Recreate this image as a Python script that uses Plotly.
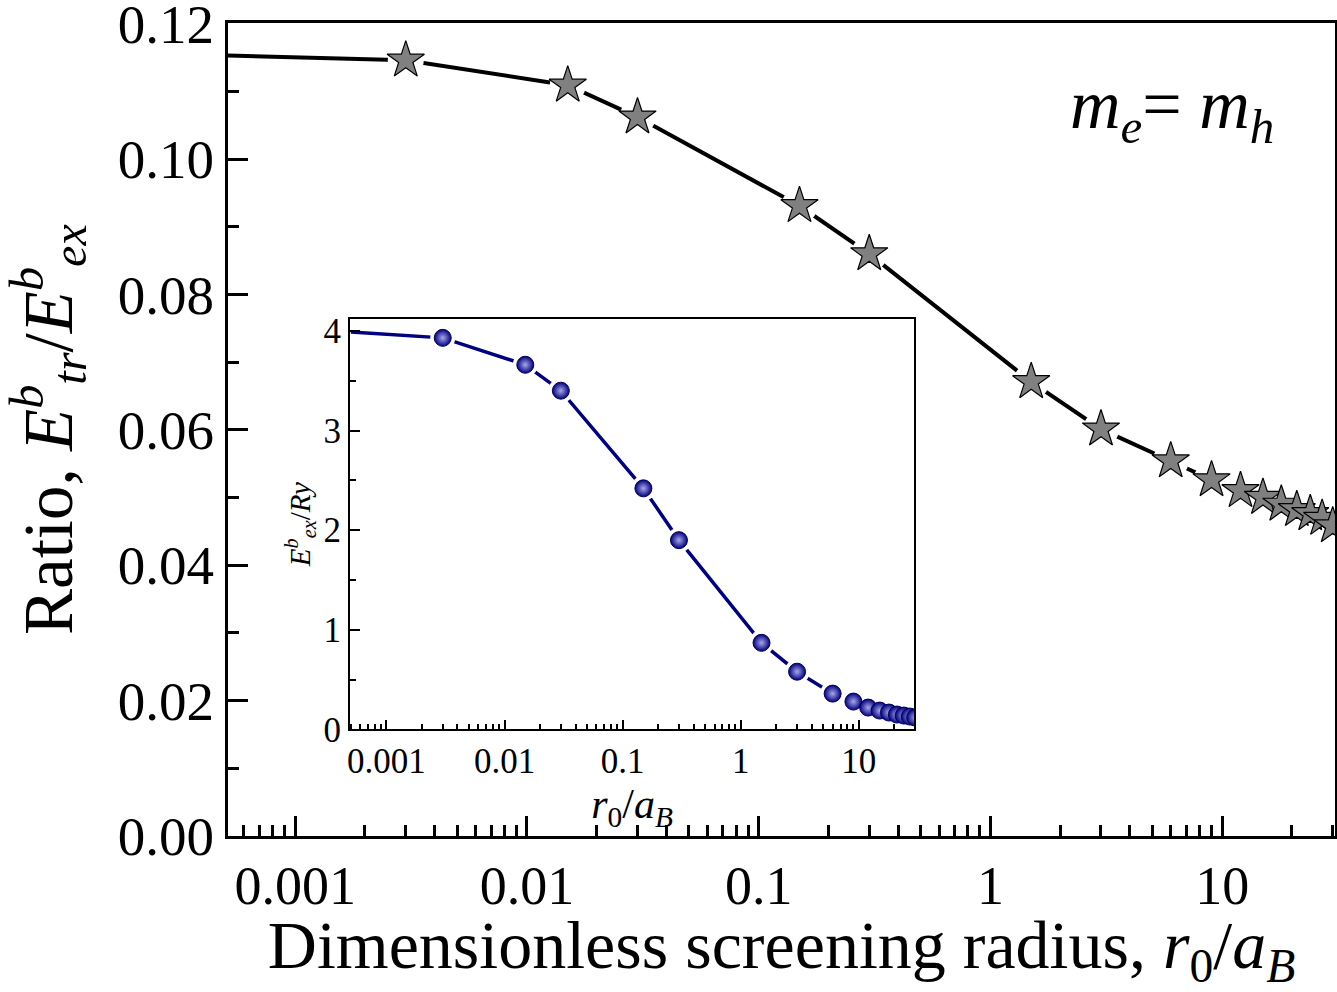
import plotly.graph_objects as go

# ---- data ----
r0 = [0.003, 0.015, 0.03, 0.15, 0.3, 1.5, 3, 6, 9, 12, 15, 18, 21, 24, 27, 30]
ratio = [0.1146, 0.1109, 0.1062, 0.0931, 0.0860, 0.0671, 0.0601, 0.0554,
         0.0526, 0.0510, 0.0500, 0.0490, 0.0482, 0.0476, 0.0469, 0.0458]
energy = [3.93, 3.66, 3.40, 2.42, 1.90, 0.87, 0.58, 0.36,
          0.28, 0.22, 0.19, 0.17, 0.15, 0.14, 0.13, 0.12]
# curve start at the left edge of the axes
r0_start = 0.0005
ratio_start = 0.1153
energy_start = 3.99

xtick_vals = [0.001, 0.01, 0.1, 1, 10]
xtick_text = ["0.001", "0.01", "0.1", "1", "10"]
minor_log = [k * 10.0 ** d for d in range(-4, 2) for k in range(2, 10)]
ytick_main = [0.00, 0.02, 0.04, 0.06, 0.08, 0.10, 0.12]
ytick_main_text = ["0.00", "0.02", "0.04", "0.06", "0.08", "0.10", "0.12"]
ytick_inset = [0, 1, 2, 3, 4]

FONT = "Liberation Serif"
NAVY = "#000080"

fig = go.Figure()

# ---- main plot ----
fig.add_trace(go.Scatter(x=[r0_start] + r0, y=[ratio_start] + ratio, mode="lines",
                         line=dict(color="black", width=4), xaxis="x", yaxis="y",
                         showlegend=False, hoverinfo="skip"))
fig.add_trace(go.Scatter(x=r0, y=ratio, mode="markers",
                         marker=dict(symbol="circle", size=36, color="white",
                                     line=dict(width=0)),
                         xaxis="x", yaxis="y", showlegend=False, hoverinfo="skip"))
fig.add_trace(go.Scatter(x=r0, y=ratio, mode="markers",
                         marker=dict(symbol="star", size=28, color="#808080",
                                     line=dict(color="black", width=1.2)),
                         xaxis="x", yaxis="y", showlegend=False))

# ---- inset ----
fig.add_trace(go.Scatter(x=[r0_start] + r0, y=[energy_start] + energy, mode="lines",
                         line=dict(color=NAVY, width=3.5), xaxis="x2", yaxis="y2",
                         showlegend=False, hoverinfo="skip"))
fig.add_trace(go.Scatter(x=r0, y=energy, mode="markers",
                         marker=dict(symbol="circle", size=25, color="white",
                                     line=dict(width=0)),
                         xaxis="x2", yaxis="y2", showlegend=False, hoverinfo="skip"))
fig.add_trace(go.Scatter(x=r0, y=energy, mode="markers",
                         marker=dict(symbol="circle", size=17, color=NAVY,
                                     gradient=dict(type="radial", color="#a8a8e8"),
                                     line=dict(color="#00005a", width=1)),
                         xaxis="x2", yaxis="y2", showlegend=False))

axis_common = dict(showgrid=False, zeroline=False, showline=True,
                   linecolor="black", mirror=True, ticks="inside",
                   tickcolor="black", ticklabeloverflow="allow", automargin=False)

fig.update_layout(
    width=1337, height=992,
    margin=dict(l=228, r=2, t=23, b=156),
    paper_bgcolor="white", plot_bgcolor="white",
    font=dict(family=FONT, color="black"),
    xaxis=dict(**axis_common, type="log", range=[-3.29, 1.487], domain=[0, 1],
               tickvals=xtick_vals, ticktext=xtick_text, linewidth=3,
               ticklen=20, tickwidth=3,
               minor=dict(ticks="inside", ticklen=11, tickwidth=3, tickcolor="black",
                          tickmode="array", tickvals=minor_log, showgrid=False),
               tickfont=dict(size=54, family=FONT),
               title=dict(text="Dimensionless screening radius, <i>r</i><sub>0</sub>/<i>a</i><sub><i>B</i></sub>",
                          font=dict(size=68, family=FONT), standoff=12)),
    yaxis=dict(**axis_common, range=[0, 0.1201], domain=[0, 1],
               tickvals=ytick_main, ticktext=ytick_main_text, linewidth=3,
               ticklen=20, tickwidth=3,
               minor=dict(ticks="inside", ticklen=11, tickwidth=3, tickcolor="black",
                          tickmode="array",
                          tickvals=[0.01, 0.03, 0.05, 0.07, 0.09, 0.11], showgrid=False),
               tickfont=dict(size=55, family=FONT),
               title=dict(text="Ratio, <i>E</i><sup><i>b</i></sup><sub><i>tr</i></sub>/<i>E</i><sup><i>b</i></sup><sub><i>ex</i></sub>",
                          font=dict(size=69, family=FONT), standoff=28)),
    xaxis2=dict(**axis_common, type="log", range=[-3.31, 1.47], domain=[0.110, 0.620],
                anchor="y2", tickvals=xtick_vals, ticktext=xtick_text, linewidth=1.5,
                ticklen=10, tickwidth=1.5,
                minor=dict(ticks="inside", ticklen=6, tickwidth=1.5, tickcolor="black",
                           tickmode="array", tickvals=minor_log, showgrid=False),
                tickfont=dict(size=35, family=FONT),
                title=dict(text="<i>r</i><sub>0</sub>/<i>a</i><sub><i>B</i></sub>",
                           font=dict(size=42, family=FONT), standoff=0)),
    yaxis2=dict(**axis_common, range=[0, 4.12], domain=[0.131, 0.636],
                anchor="x2", tickvals=ytick_inset, linewidth=1.5,
                ticklen=10, tickwidth=1.5,
                minor=dict(ticks="inside", ticklen=6, tickwidth=1.5, tickcolor="black",
                           tickmode="array", tickvals=[0.5, 1.5, 2.5, 3.5], showgrid=False),
                tickfont=dict(size=35, family=FONT),
                title=dict(text="<i>E</i><sup><i>b</i></sup><sub><i>ex</i></sub>/<i>Ry</i>",
                           font=dict(size=29, family=FONT), standoff=4)),
    annotations=[dict(text="<i>m</i><sub><i>e</i></sub>= <i>m</i><sub><i>h</i></sub>",
                      xref="paper", yref="paper", x=0.759, y=0.95,
                      xanchor="left", yanchor="top",
                      showarrow=False, font=dict(size=70, family=FONT))],
)

fig.write_html("out.html")
